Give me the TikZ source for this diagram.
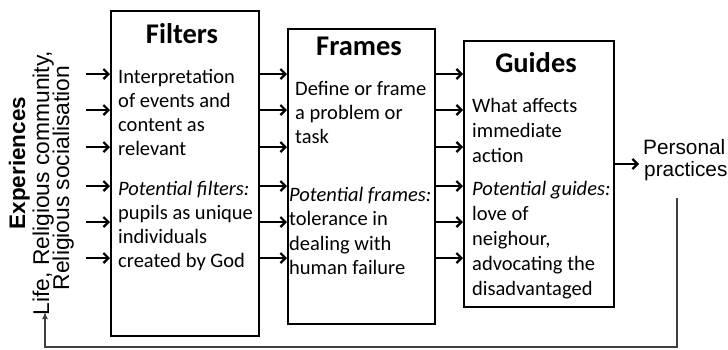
\documentclass[tikz,border=0pt]{standalone}
\usepackage{fontspec}
\setmainfont{Carlito}
\newfontfamily\arialf{Liberation Sans}
\usetikzlibrary{arrows.meta}
\begin{document}
\begin{tikzpicture}[x=1pt,y=-1pt,
  box/.style={draw, line width=2.2pt, inner sep=0pt, anchor=north west},
  ttl/.style={anchor=base, inner sep=0pt, font=\fontsize{28.5}{30}\selectfont\bfseries},
  txt/.style={anchor=base west, inner sep=0pt, font=\fontsize{20.5}{24.5}\selectfont},
  side/.style={anchor=base, inner sep=0pt, rotate=90, font=\arialf\fontsize{22.8}{26}\selectfont},
  arr/.style={line width=2.2pt, -{Straight Barb[length=5pt,width=10pt,line width=2.2pt]}},
  fb/.style={draw=black!75, line width=1.3pt}]
\useasboundingbox (0,0) rectangle (728,349);
% boxes
\node[box, minimum width=148pt, minimum height=325pt] (filters) at (110,10) {};
\node[box, minimum width=147pt, minimum height=295pt] (frames) at (287,28) {};
\node[box, minimum width=150pt, minimum height=266pt] (guides) at (463,40) {};
% titles
\node[ttl] (tf) at (182,43) {Filters};
\node[ttl] (tr) at (359,55) {Frames};
\node[ttl] (tg) at (536,72) {Guides};
% Filters text
\foreach \t [count=\i] in {Interpretation, of events and, content as, relevant}
  \node[txt] (fa\i) at (118,{83+24*(\i-1)}) {\t};
\foreach \t [count=\i] in {{\itshape Potential filters:}, pupils as unique, individuals, created by God}
  \node[txt] (fb\i) at (118,{195+24*(\i-1)}) {\t};
% Frames text
\foreach \t [count=\i] in {Define or frame, a problem or, task}
  \node[txt] (ra\i) at (295,{95+24*(\i-1)}) {\t};
\foreach \t [count=\i] in {{\itshape Potential frames:}, tolerance in, dealing with, human failure}
  \node[txt] (rb\i) at (289,{201+24.5*(\i-1)}) {\t};
% Guides text
\foreach \t [count=\i] in {What affects, immediate, action}
  \node[txt] (ga\i) at (472,{112+25*(\i-1)}) {\t};
\foreach \t [count=\i] in {{\itshape Potential guides:}, love of, {neighour,}, advocating the, disadvantaged}
  \node[txt] (gb\i) at (472,{195+25*(\i-1)}) {\t};
% side texts
\node[side, font=\arialf\fontsize{22.5}{26}\selectfont\bfseries] (exp) at (25,163) {Experiences};
\node[side] (life) at (49,183) {Life, Religious community,};
\node[side] (rels) at (69,178) {Religious socialisation};
% personal practices
\node[anchor=base west, inner sep=0pt, font=\arialf\fontsize{20.8}{22}\selectfont] (pp1) at (643,154) {Personal};
\node[anchor=base west, inner sep=0pt, font=\arialf\fontsize{20.8}{22}\selectfont] (pp2) at (644,176) {practices};
% arrows
\foreach \y [count=\i] in {74,110,147,186,222,258} {
  \coordinate (in\i) at (86,\y);
  \draw[arr] (in\i) -- (in\i -| filters.west);
  \draw[arr] (filters.east |- in\i) -- (frames.west |- in\i);
  \draw[arr] (frames.east |- in\i) -- (guides.west |- in\i);
}
\coordinate (ppin) at (639,164);
\draw[arr] (guides.east |- ppin) -- (ppin);
% feedback loop
\coordinate (fbstart) at (677,198);
\coordinate (fbend) at (45,312);
\draw[fb, -{Latex[length=7pt,width=6pt]}] (fbstart) -- (677,347) -- (45,347) -- (fbend);
\end{tikzpicture}
\end{document}
